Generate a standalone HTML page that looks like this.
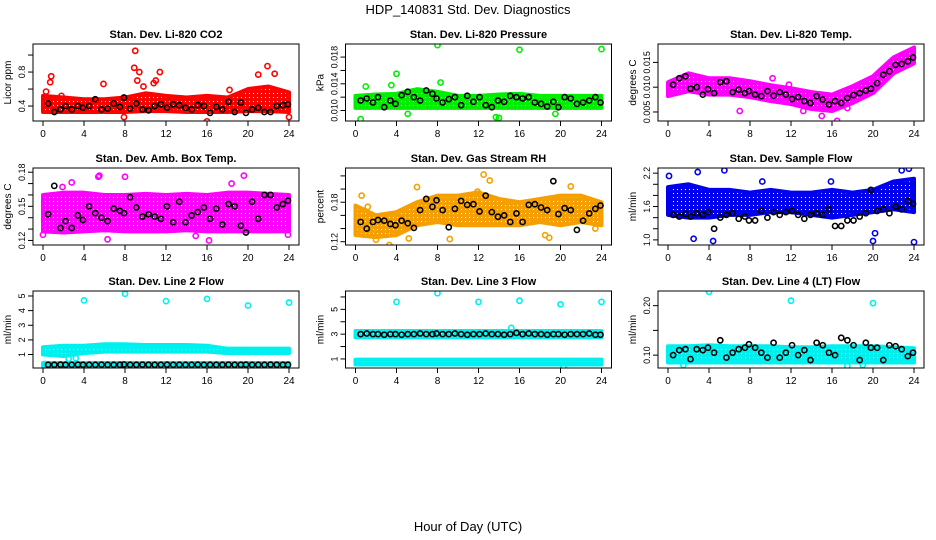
<!DOCTYPE html>
<html><head><meta charset="utf-8"><style>
body{margin:0;background:#fff;}
svg{display:block;font-family:"Liberation Sans",sans-serif;}
</style></head><body>
<svg id="chart" width="936" height="540" viewBox="0 0 936 540">
<text x="468" y="14" font-size="13" text-anchor="middle">HDP_140831  Std. Dev. Diagnostics</text>
<text x="468" y="531" font-size="13" text-anchor="middle">Hour of Day (UTC)</text>
</svg>
<script>
// band hours and shared black-point hours
const bandHours=[0,2,4,6,8,10,12,14,16,18,20,22,24];
const blkHours=[0.5,1.1,1.7,2.2,2.8,3.4,3.9,4.5,5.1,5.7,6.3,6.9,7.5,7.9,8.5,9.1,9.7,10.3,10.9,11.5,12.1,12.7,13.3,13.9,14.5,15.1,15.7,16.3,16.9,17.5,18.1,18.7,19.3,19.8,20.4,21.0,21.6,22.2,22.8,23.4,23.9];
const xTicks=[0,4,8,12,16,20,24];

// CO2
const co2Low=[0.33,0.33,0.33,0.33,0.33,0.34,0.34,0.33,0.33,0.33,0.34,0.34,0.33];
const co2High=[0.52,0.5,0.48,0.48,0.5,0.55,0.52,0.5,0.52,0.5,0.6,0.63,0.56];
const co2OutX=[0.8,0.7,0.3,5.9,8.9,9.0,9.2,9.4,9.8,10.8,11.0,11.4,18.2,21.0,21.9,22.6,16.0,24.0,7.9,1.8,15.0];
const co2OutY=[0.75,0.68,0.57,0.66,0.85,1.05,0.7,0.8,0.63,0.67,0.7,0.8,0.59,0.77,0.87,0.78,0.22,0.27,0.27,0.52,0.48];
const co2Blk=[0.43,0.33,0.36,0.4,0.36,0.4,0.38,0.4,0.48,0.36,0.37,0.43,0.39,0.5,0.37,0.43,0.36,0.35,0.4,0.42,0.38,0.42,0.41,0.38,0.36,0.41,0.4,0.32,0.39,0.36,0.45,0.33,0.44,0.32,0.36,0.38,0.33,0.33,0.4,0.41,0.42];
// Pressure
const presLow=[0.0104,0.0104,0.0104,0.0104,0.0104,0.0104,0.0104,0.0104,0.0104,0.0104,0.0104,0.0104,0.0104];
const presHigh=[0.0122,0.0124,0.0125,0.0132,0.0128,0.0122,0.0122,0.0124,0.0125,0.0122,0.0122,0.0122,0.0122];
const presOutX=[8.0,16.0,24.0,4.0,0.5,1.0,3.5,14.0,13.7,8.3,5.1,19.5];
const presOutY=[0.0198,0.0191,0.0192,0.0155,0.0087,0.0136,0.0138,0.0089,0.0090,0.0142,0.0095,0.0095];
const presBlk=[0.0115,0.0118,0.0112,0.0120,0.0105,0.0115,0.0110,0.0123,0.0128,0.0120,0.0115,0.0130,0.0125,0.0118,0.0112,0.0117,0.0120,0.0108,0.0122,0.0113,0.0120,0.0108,0.0105,0.0115,0.0113,0.0122,0.0120,0.0118,0.0120,0.0112,0.0110,0.0106,0.0113,0.0105,0.0120,0.0118,0.0110,0.0112,0.0115,0.0120,0.0112];
// Temp
const tempLow=[0.0082,0.0092,0.0085,0.0085,0.0080,0.0072,0.0066,0.0056,0.0052,0.0068,0.0088,0.0128,0.0148];
const tempHigh=[0.0110,0.0128,0.0118,0.0118,0.0112,0.0104,0.0098,0.0090,0.0085,0.0102,0.0122,0.0160,0.0180];
const tempOutX=[10.2,11.8,15.0,16.5,17.5,7.0,20.0,13.2];
const tempOutY=[0.0118,0.0105,0.0042,0.0032,0.0058,0.0052,0.0108,0.0052];
const tempBlk=[0.0105,0.0118,0.0122,0.0097,0.0100,0.0085,0.0096,0.0088,0.0110,0.0112,0.0090,0.0095,0.0088,0.0092,0.0085,0.0082,0.0092,0.0083,0.0090,0.0085,0.0076,0.0080,0.0072,0.0068,0.0082,0.0075,0.0065,0.0072,0.0068,0.0078,0.0084,0.0088,0.0093,0.0097,0.0108,0.0125,0.0132,0.0145,0.0147,0.0152,0.0160];
// Amb box
const ambLow=[0.128,0.127,0.128,0.129,0.128,0.128,0.128,0.129,0.128,0.128,0.128,0.128,0.128];
const ambHigh=[0.160,0.162,0.162,0.160,0.160,0.161,0.160,0.161,0.160,0.162,0.162,0.161,0.160];
const ambOutX=[0,1.9,5.4,6.3,2.8,8.0,11.3,14.9,19.6,16.2,18.4,23.9,5.5,22.0];
const ambOutY=[0.125,0.167,0.176,0.121,0.171,0.176,0.112,0.124,0.177,0.120,0.170,0.125,0.177,0.110];
const ambBlk=[0.143,0.168,0.131,0.137,0.131,0.142,0.138,0.150,0.144,0.140,0.137,0.148,0.146,0.144,0.158,0.149,0.141,0.143,0.141,0.139,0.150,0.136,0.154,0.136,0.142,0.145,0.149,0.139,0.148,0.134,0.152,0.150,0.133,0.127,0.154,0.139,0.160,0.160,0.149,0.152,0.155];
// RH
const rhLow=[0.130,0.127,0.130,0.145,0.150,0.145,0.145,0.145,0.145,0.150,0.145,0.150,0.145];
const rhHigh=[0.175,0.160,0.165,0.180,0.190,0.190,0.195,0.185,0.180,0.185,0.190,0.190,0.180];
const rhOutX=[1.2,2.0,3.3,6.0,9.2,11.9,12.5,13.1,18.5,18.9,21.0,23.4,0.6,5.2];
const rhOutY=[0.173,0.123,0.115,0.203,0.124,0.196,0.222,0.213,0.130,0.126,0.204,0.140,0.190,0.125];
const rhBlk=[0.150,0.140,0.150,0.153,0.152,0.147,0.145,0.152,0.148,0.141,0.168,0.185,0.173,0.183,0.168,0.142,0.170,0.182,0.176,0.177,0.166,0.190,0.165,0.158,0.160,0.150,0.163,0.150,0.176,0.177,0.172,0.168,0.212,0.162,0.171,0.168,0.138,0.152,0.163,0.170,0.175];
// Sample flow
const sfLow=[1.45,1.40,1.40,1.45,1.45,1.50,1.50,1.45,1.40,1.45,1.50,1.55,1.50];
const sfHigh=[1.95,2.00,1.90,1.90,1.85,1.90,1.85,1.85,1.90,1.85,1.90,2.05,2.10];
const sfOutX=[0.1,2.5,2.9,4.4,5.5,20.0,20.2,22.8,23.5,24.0,9.2,15.9];
const sfOutY=[2.15,1.02,2.22,0.98,2.25,0.98,1.12,2.25,2.28,0.96,2.05,2.05];
const sfBlk=[1.45,1.42,1.47,1.42,1.48,1.45,1.5,1.2,1.4,1.45,1.48,1.38,1.42,1.35,1.35,1.52,1.4,1.5,1.45,1.5,1.52,1.45,1.38,1.45,1.48,1.45,1.55,1.25,1.25,1.35,1.35,1.42,1.48,1.9,1.52,1.55,1.48,1.6,1.55,1.7,1.65];
// Line 2
const l2Low=[1.0,0.9,1.1,1.2,1.2,1.2,1.2,1.2,1.2,1.1,1.1,1.1,1.1];
const l2High=[1.5,1.6,1.6,1.7,1.7,1.65,1.65,1.65,1.6,1.4,1.4,1.4,1.4];
const l2BotLow=[0.22,0.22,0.22,0.22,0.22,0.22,0.22,0.22,0.22,0.22,0.22,0.22,0.22];
const l2BotHigh=[0.42,0.42,0.42,0.42,0.42,0.42,0.42,0.42,0.42,0.42,0.42,0.42,0.42];
const l2OutX=[4,8,12,16,20,24,2.5,3.2,0.2];
const l2OutY=[4.7,5.15,4.65,4.8,4.35,4.55,0.7,0.75,0.35];
const l2Blk=[0.3,0.3,0.31,0.3,0.3,0.31,0.3,0.3,0.3,0.31,0.3,0.3,0.3,0.32,0.3,0.3,0.31,0.3,0.3,0.3,0.31,0.3,0.3,0.3,0.3,0.31,0.3,0.3,0.3,0.3,0.31,0.3,0.3,0.31,0.3,0.3,0.3,0.31,0.3,0.3,0.3];
// Line 3
const l3Low=[2.75,2.75,2.75,2.75,2.75,2.75,2.75,2.75,2.75,2.75,2.75,2.75,2.75];
const l3High=[3.25,3.25,3.25,3.25,3.25,3.25,3.25,3.25,3.25,3.25,3.25,3.25,3.25];
const l3BotLow=[0.55,0.55,0.55,0.55,0.55,0.55,0.55,0.55,0.55,0.55,0.55,0.55,0.55];
const l3BotHigh=[0.95,0.95,0.95,0.95,0.95,0.95,0.95,0.95,0.95,0.95,0.95,0.95,0.95];
const l3OutX=[4,8,12,16,20,24,15.2,20.3];
const l3OutY=[5.6,6.3,5.6,5.7,5.4,5.6,3.5,0.4];
const l3Blk=[3.0,3.05,3.0,3.0,2.95,3.0,3.0,2.95,3.0,3.0,3.05,3.0,3.0,3.05,3.0,3.0,3.05,3.0,2.95,3.0,3.0,3.05,3.0,3.0,2.95,3.0,3.1,3.0,3.05,3.0,3.0,2.95,3.0,3.0,2.95,3.0,3.0,3.0,3.05,2.95,2.95];
// Line 4
const l4Low=[0.085,0.085,0.085,0.085,0.085,0.085,0.085,0.085,0.085,0.085,0.085,0.085,0.085];
const l4High=[0.118,0.118,0.120,0.118,0.118,0.118,0.116,0.116,0.118,0.118,0.118,0.116,0.114];
const l4OutX=[4,12,20,1.5,17.5,19.0];
const l4OutY=[0.228,0.21,0.205,0.08,0.078,0.08];
const l4Blk=[0.10,0.11,0.112,0.092,0.112,0.11,0.115,0.105,0.13,0.095,0.105,0.112,0.115,0.122,0.115,0.105,0.095,0.125,0.095,0.105,0.12,0.10,0.11,0.09,0.125,0.12,0.105,0.10,0.135,0.13,0.12,0.09,0.125,0.115,0.115,0.09,0.12,0.118,0.112,0.098,0.105];

const svg=document.getElementById('chart');
const NS='http://www.w3.org/2000/svg';
function mk(tag,attrs,parent){const e=document.createElementNS(NS,tag);for(const k in attrs)e.setAttribute(k,attrs[k]);(parent||svg).appendChild(e);return e;}
const defs=mk('defs',{});

const colX=[33,345.5,658];
const rowY=[44,168,291];
const W=266,H=77;
const panels=[
 {name:'co2',title:'Stan. Dev. Li-820 CO2',ylab:'Licor ppm',c:'#ff0000',lo:0.224,hi:1.13,ticks:[0.4,0.6,0.8,1.0],labs:['0.4','0.8'],labv:[0.4,0.8],bands:[[co2Low,co2High]],ox:co2OutX,oy:co2OutY,blk:co2Blk},
 {name:'pressure',title:'Stan. Dev. Li-820 Pressure',ylab:'kPa',c:'#00ee00',lo:0.00843,hi:0.01996,ticks:[0.010,0.012,0.014,0.016,0.018],labs:['0.010','0.014','0.018'],labv:[0.010,0.014,0.018],bands:[[presLow,presHigh]],ox:presOutX,oy:presOutY,blk:presBlk},
 {name:'temp',title:'Stan. Dev. Li-820 Temp.',ylab:'degrees C',c:'#ff00ff',lo:0.00318,hi:0.01871,ticks:[0.005,0.010,0.015],labs:['0.005','0.010','0.015'],labv:[0.005,0.010,0.015],bands:[[tempLow,tempHigh]],ox:tempOutX,oy:tempOutY,blk:tempBlk},
 {name:'amb-box-temp',title:'Stan. Dev. Amb. Box Temp.',ylab:'degrees C',c:'#ff00ff',lo:0.116,hi:0.1837,ticks:[0.12,0.13,0.14,0.15,0.16,0.17,0.18],labs:['0.12','0.15','0.18'],labv:[0.12,0.15,0.18],bands:[[ambLow,ambHigh]],ox:ambOutX,oy:ambOutY,blk:ambBlk},
 {name:'gas-stream-rh',title:'Stan. Dev. Gas Stream RH',ylab:'percent',c:'#f5a000',lo:0.115,hi:0.232,ticks:[0.12,0.14,0.16,0.18,0.20,0.22],labs:['0.12','0.18'],labv:[0.12,0.18],bands:[[rhLow,rhHigh]],ox:rhOutX,oy:rhOutY,blk:rhBlk},
 {name:'sample-flow',title:'Stan. Dev. Sample Flow',ylab:'ml/min',c:'#0000ee',lo:0.908,hi:2.293,ticks:[1.0,1.2,1.4,1.6,1.8,2.0,2.2],labs:['1.0','1.6','2.2'],labv:[1.0,1.6,2.2],bands:[[sfLow,sfHigh]],ox:sfOutX,oy:sfOutY,blk:sfBlk},
 {name:'line2-flow',title:'Stan. Dev. Line 2 Flow',ylab:'ml/min',c:'#00f0f0',lo:0.08,hi:5.34,ticks:[1,2,3,4,5],labs:['1','2','3','4','5'],labv:[1,2,3,4,5],bands:[[l2Low,l2High],[l2BotLow,l2BotHigh]],ox:l2OutX,oy:l2OutY,blk:l2Blk},
 {name:'line3-flow',title:'Stan. Dev. Line 3 Flow',ylab:'ml/min',c:'#00f0f0',lo:0.27,hi:6.48,ticks:[1,2,3,4,5,6],labs:['1','3','5'],labv:[1,3,5],bands:[[l3Low,l3High],[l3BotLow,l3BotHigh]],ox:l3OutX,oy:l3OutY,blk:l3Blk},
 {name:'line4-flow',title:'Stan. Dev. Line 4 (LT) Flow',ylab:'ml/min',c:'#00f0f0',lo:0.074,hi:0.2296,ticks:[0.10,0.15,0.20],labs:['0.10','0.20'],labv:[0.10,0.20],bands:[[l4Low,l4High]],ox:l4OutX,oy:l4OutY,blk:l4Blk}
];

panels.forEach((p,i)=>{
  const bx=colX[i%3],by=rowY[Math.floor(i/3)];
  const g=mk('g',{});
  
  
  const xs=h=>bx+10+h*(W-20)/24;
  const ys=v=>by+H-(v-p.lo)/(p.hi-p.lo)*H;
  const pat=mk('pattern',{id:'pat'+i,width:4,height:4,patternUnits:'userSpaceOnUse'},defs);
  mk('rect',{x:0,y:0,width:4,height:4,fill:p.c},pat);
  mk('rect',{x:1,y:1,width:1,height:1,fill:'#fff'},pat);
  const clip=mk('clipPath',{id:'clip'+i},g);
  mk('rect',{x:bx,y:by,width:W,height:H},clip);
  const plot=mk('g',{'clip-path':'url(#clip'+i+')'},g);
  p.bands.forEach(([lo,hi])=>{
    let pts=[];
    bandHours.forEach((h,k)=>pts.push(xs(h)+','+ys(hi[k])));
    for(let k=bandHours.length-1;k>=0;k--)pts.push(xs(bandHours[k])+','+ys(lo[k]));
    const b=mk('polygon',{points:pts.join(' '),fill:'url(#pat'+i+')',stroke:p.c,'stroke-width':4,'stroke-linejoin':'round'},plot);
    
    
  });
  p.ox.forEach((h,k)=>{
    const c=mk('circle',{cx:xs(h),cy:ys(p.oy[k]),r:2.6,fill:'none',stroke:p.c,'stroke-width':1.6},plot);
    
    
  });
  p.blk.forEach((v,k)=>{
    const c=mk('circle',{cx:xs(blkHours[k]),cy:ys(v),r:2.6,fill:'none',stroke:'#000','stroke-width':1.6},plot);
    
    
  });
  const fr=mk('rect',{x:bx,y:by,width:W,height:H,fill:'none',stroke:'#000','stroke-width':1},g);
  
  
  const t=mk('text',{x:bx+W/2,y:by-6,'font-size':11,'font-weight':'bold','text-anchor':'middle'},g);
  t.textContent=p.title;
  
  
  xTicks.forEach(h=>{
    mk('line',{x1:xs(h),x2:xs(h),y1:by+H,y2:by+H+5,stroke:'#000'},g);
    const l=mk('text',{x:xs(h),y:by+H+16,'font-size':10,'text-anchor':'middle'},g);
    l.textContent=h;
    
    
  });
  p.ticks.forEach(v=>mk('line',{x1:bx-5,x2:bx,y1:ys(v),y2:ys(v),stroke:'#000'},g));
  p.labv.forEach((v,k)=>{
    const l=mk('text',{x:bx-8,y:ys(v),'font-size':9,'text-anchor':'middle',transform:'rotate(-90 '+(bx-8)+' '+ys(v)+')'},g);
    l.textContent=p.labs[k];
    
    
  });
  const yl=mk('text',{x:bx-22,y:by+H/2,'font-size':10,'text-anchor':'middle',transform:'rotate(-90 '+(bx-22)+' '+(by+H/2)+')'},g);
  yl.textContent=p.ylab;
  
  
});
</script>
</body></html>
